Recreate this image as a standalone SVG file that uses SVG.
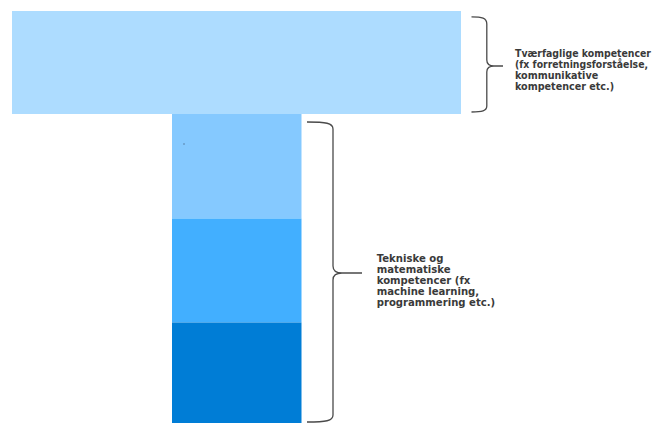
<svg xmlns="http://www.w3.org/2000/svg" width="657" height="423" viewBox="0 0 657 423">
<style>
.lbl{font-family:"DejaVu Sans",Verdana,sans-serif;font-weight:bold;font-size:10.1px;fill:#3a3a3a}
.sm{font-size:9.6px}
.brace{fill:none;stroke:#4a4a4a;stroke-width:1.3}
</style>
<rect width="657" height="423" fill="#ffffff"/>
<g id="top-bar"><rect x="12" y="11" width="449" height="103" fill="#ADDCFF"/></g>
<g id="stem-1"><rect x="172" y="114" width="129.5" height="104.5" fill="#85C9FF"/><circle cx="184" cy="144" r="0.7" fill="#4a6a8a"/></g>
<g id="stem-2"><rect x="172" y="218.5" width="129.5" height="104" fill="#42AFFF"/></g>
<g id="stem-3"><rect x="172" y="322.5" width="129.5" height="100.5" fill="#007DD6"/></g>
<g id="connectors">
<path class="brace" d="M471.5,16.8 C482,16.8 486.8,18 486.8,24 L486.8,60 C486.8,64 490,66 494,66 L503,66 M494,66 C490,66 486.8,68 486.8,72 L486.8,106 C486.8,111 482,112 471.5,112"/>
<path class="brace" d="M307,122 C326,122 333,123 333,129 L333,266 C333,271 337,273 342,273 L362,273 M342,273 C337,273 333,275 333,280 L333,415 C333,421 326,422 307,422"/>
</g>
<g id="label-top">
<text class="lbl sm" x="515" y="56.7" textLength="136" lengthAdjust="spacingAndGlyphs">Tværfaglige kompetencer</text>
<text class="lbl sm" x="515" y="67.8" textLength="133" lengthAdjust="spacingAndGlyphs">(fx forretningsforståelse,</text>
<text class="lbl sm" x="515" y="78.9">kommunikative</text>
<text class="lbl sm" x="515" y="90">kompetencer etc.)</text>
</g>
<g id="label-bottom">
<text class="lbl" x="376.7" y="261.7">Tekniske og</text>
<text class="lbl" x="376.7" y="272.7">matematiske</text>
<text class="lbl" x="376.7" y="283.7">kompetencer (fx</text>
<text class="lbl" x="376.7" y="294.7">machine learning,</text>
<text class="lbl" x="376.7" y="305.7">programmering etc.)</text>
</g>
</svg>
